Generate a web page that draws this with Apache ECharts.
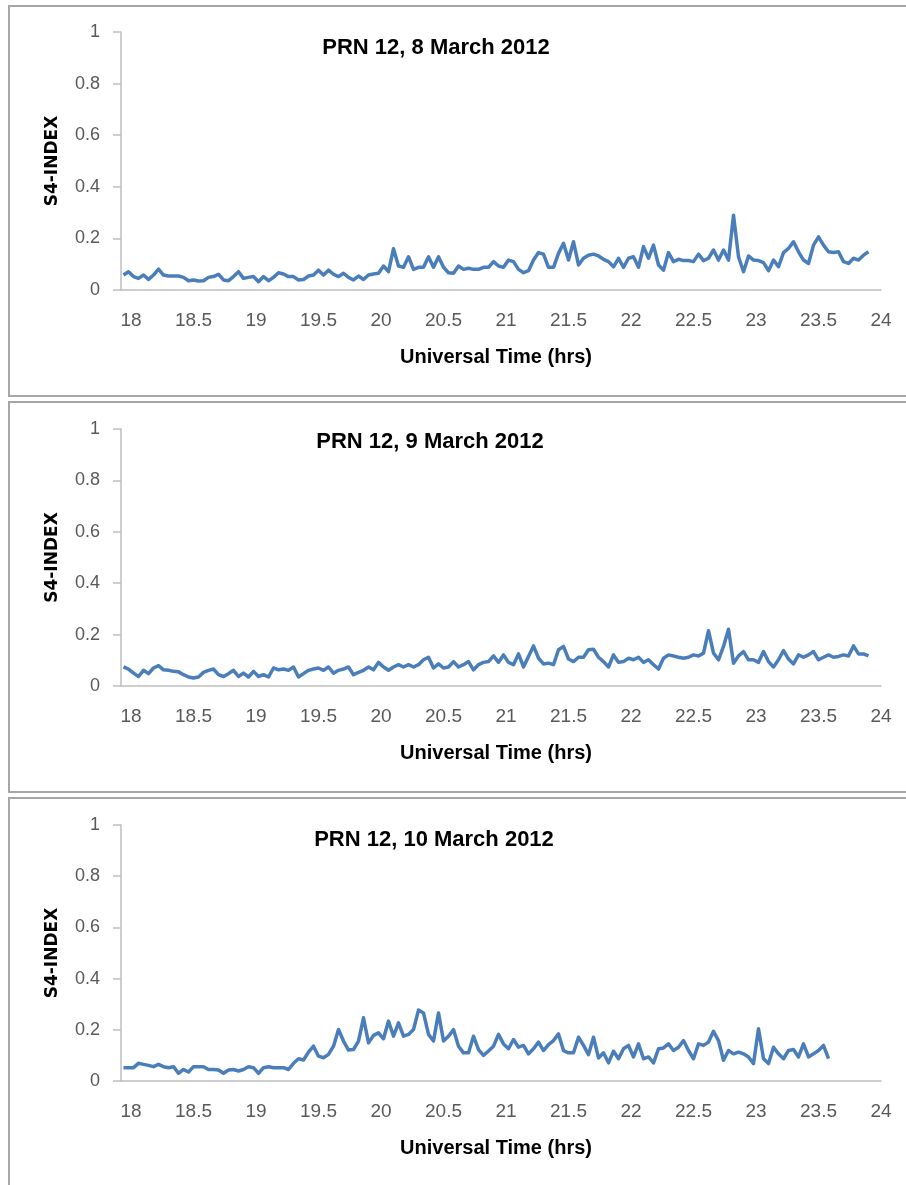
<!DOCTYPE html>
<html>
<head>
<meta charset="utf-8">
<title>PRN 12 S4 index, 8-10 March 2012</title>
<script src="https://cdn.jsdelivr.net/npm/echarts@6/dist/echarts.min.js"></script>
<style>
  html, body { margin: 0; padding: 0; background: #ffffff; }
  #chart { width: 906px; height: 1185px; }
</style>
</head>
<body>
<div id="chart"></div>
<script>
// S4 scintillation index for PRN 12, evening hours (UT) of three consecutive days.
// Samples are taken every SAMPLE_STEP hours starting at SAMPLE_START.
const SAMPLE_START = 17.94;
const SAMPLE_STEP = 0.04;

const titles = ['PRN 12, 8 March 2012', 'PRN 12, 9 March 2012', 'PRN 12, 10 March 2012'];
const xTickValues = [18, 18.5, 19, 19.5, 20, 20.5, 21, 21.5, 22, 22.5, 23, 23.5, 24];
const xAxisTitle = 'Universal Time (hrs)';
const yAxisTitle = 'S4-INDEX';

const s4Mar8 = [
  0.058, 0.071, 0.052, 0.045, 0.058, 0.041, 0.058, 0.081, 0.058, 0.054,
  0.054, 0.054, 0.049, 0.036, 0.039, 0.035, 0.036, 0.049, 0.052, 0.061,
  0.039, 0.036, 0.052, 0.071, 0.045, 0.049, 0.052, 0.032, 0.052, 0.036,
  0.049, 0.067, 0.062, 0.052, 0.052, 0.039, 0.041, 0.054, 0.058, 0.077,
  0.058, 0.077, 0.061, 0.052, 0.065, 0.049, 0.039, 0.054, 0.041, 0.058,
  0.062, 0.065, 0.093, 0.071, 0.160, 0.093, 0.088, 0.129, 0.080, 0.088,
  0.088, 0.129, 0.088, 0.129, 0.088, 0.067, 0.065, 0.093, 0.080, 0.084,
  0.080, 0.080, 0.088, 0.088, 0.110, 0.093, 0.088, 0.116, 0.110, 0.080,
  0.067, 0.075, 0.116, 0.145, 0.139, 0.088, 0.088, 0.142, 0.181, 0.116,
  0.187, 0.097, 0.123, 0.135, 0.139, 0.132, 0.119, 0.110, 0.090, 0.123,
  0.088, 0.123, 0.129, 0.088, 0.168, 0.123, 0.174, 0.097, 0.077, 0.145,
  0.110, 0.119, 0.114, 0.114, 0.110, 0.139, 0.114, 0.123, 0.155, 0.116,
  0.155, 0.116, 0.290, 0.129, 0.071, 0.132, 0.116, 0.114, 0.106, 0.075,
  0.116, 0.090, 0.145, 0.161, 0.187, 0.148, 0.116, 0.103, 0.174, 0.206,
  0.174, 0.148, 0.145, 0.148, 0.110, 0.103, 0.123, 0.116, 0.135, 0.148
];

const s4Mar9 = [
  0.074, 0.066, 0.050, 0.037, 0.061, 0.048, 0.070, 0.079, 0.063, 0.061,
  0.057, 0.055, 0.044, 0.035, 0.031, 0.035, 0.053, 0.061, 0.066, 0.044,
  0.037, 0.048, 0.061, 0.037, 0.050, 0.035, 0.057, 0.037, 0.044, 0.035,
  0.070, 0.063, 0.066, 0.061, 0.074, 0.035, 0.048, 0.061, 0.066, 0.070,
  0.061, 0.074, 0.050, 0.061, 0.066, 0.074, 0.044, 0.053, 0.061, 0.074,
  0.063, 0.092, 0.074, 0.061, 0.074, 0.083, 0.074, 0.083, 0.074, 0.083,
  0.102, 0.112, 0.070, 0.086, 0.070, 0.074, 0.095, 0.074, 0.083, 0.095,
  0.063, 0.083, 0.092, 0.095, 0.117, 0.092, 0.121, 0.092, 0.083, 0.125,
  0.074, 0.115, 0.156, 0.108, 0.086, 0.089, 0.083, 0.141, 0.154, 0.105,
  0.095, 0.112, 0.112, 0.141, 0.143, 0.112, 0.095, 0.074, 0.121, 0.092,
  0.095, 0.108, 0.102, 0.112, 0.092, 0.102, 0.083, 0.066, 0.108, 0.121,
  0.117, 0.112, 0.108, 0.112, 0.121, 0.117, 0.128, 0.215, 0.128, 0.102,
  0.154, 0.221, 0.089, 0.117, 0.134, 0.102, 0.102, 0.092, 0.134, 0.095,
  0.074, 0.102, 0.138, 0.105, 0.086, 0.121, 0.112, 0.121, 0.134, 0.102,
  0.112, 0.121, 0.112, 0.115, 0.121, 0.117, 0.156, 0.125, 0.125, 0.117
];

const s4Mar10 = [
  0.052, 0.052, 0.052, 0.069, 0.065, 0.061, 0.056, 0.065, 0.056, 0.052,
  0.056, 0.030, 0.045, 0.035, 0.056, 0.056, 0.056, 0.045, 0.045, 0.043,
  0.030, 0.043, 0.045, 0.039, 0.045, 0.056, 0.052, 0.030, 0.052, 0.056,
  0.052, 0.052, 0.052, 0.045, 0.069, 0.087, 0.082, 0.113, 0.136, 0.097,
  0.091, 0.104, 0.136, 0.201, 0.156, 0.121, 0.123, 0.156, 0.247, 0.149,
  0.178, 0.188, 0.165, 0.234, 0.175, 0.227, 0.175, 0.182, 0.201, 0.277,
  0.266, 0.182, 0.156, 0.266, 0.156, 0.175, 0.201, 0.136, 0.110, 0.110,
  0.175, 0.123, 0.100, 0.117, 0.136, 0.182, 0.145, 0.126, 0.162, 0.132,
  0.139, 0.106, 0.126, 0.152, 0.119, 0.142, 0.158, 0.184, 0.119, 0.110,
  0.110, 0.171, 0.139, 0.103, 0.171, 0.090, 0.110, 0.071, 0.116, 0.087,
  0.126, 0.139, 0.094, 0.145, 0.087, 0.094, 0.071, 0.126, 0.129, 0.145,
  0.119, 0.132, 0.158, 0.119, 0.087, 0.145, 0.139, 0.152, 0.194, 0.158,
  0.081, 0.119, 0.106, 0.113, 0.106, 0.094, 0.068, 0.204, 0.087, 0.068,
  0.132, 0.106, 0.087, 0.119, 0.123, 0.094, 0.145, 0.094, 0.106, 0.119,
  0.139, 0.087
];

const seriesValues = [s4Mar8, s4Mar9, s4Mar10];

// Panel geometry (pixels)
const panels = [
  { boxTop: 6,   boxBottom: 396,  gridTop: 32,  gridHeight: 258, titleX: 436, titleY: 48 },
  { boxTop: 402, boxBottom: 792,  gridTop: 429, gridHeight: 257, titleX: 430, titleY: 442 },
  { boxTop: 798, boxBottom: 1200, gridTop: 825, gridHeight: 256, titleX: 434, titleY: 840 }
];
const GRID_LEFT = 121;
const GRID_WIDTH = 760;
const X_MIN = 17.92;
const X_MAX = 24.0;

const FONT = '"Liberation Sans", Arial, sans-serif';
const LINE_BLUE = '#4A7EBB';
const AXIS_GREY = '#BEBEBE';
const LABEL_GREY = '#595959';

function toPairs(values) {
  return values.map((v, i) => [+(SAMPLE_START + i * SAMPLE_STEP).toFixed(3), v]);
}

const grids = [], xAxes = [], yAxes = [], series = [], graphics = [];

panels.forEach((p, k) => {
  graphics.push({
    type: 'rect',
    shape: { x: 9, y: p.boxTop, width: 960, height: p.boxBottom - p.boxTop },
    style: { fill: 'none', stroke: '#A6A6A6', lineWidth: 2 },
    silent: true
  });
  graphics.push({
    type: 'text',
    x: p.titleX, y: p.titleY,
    style: {
      text: titles[k], fill: '#000000',
      font: 'bold 22px ' + FONT,
      textAlign: 'center', textVerticalAlign: 'middle'
    },
    silent: true
  });

  grids.push({ left: GRID_LEFT, top: p.gridTop, width: GRID_WIDTH, height: p.gridHeight });

  xAxes.push({
    type: 'value', gridIndex: k, min: X_MIN, max: X_MAX,
    name: xAxisTitle, nameLocation: 'middle', nameGap: 57, nameMoveOverlap: false,
    nameTextStyle: {
      fontFamily: FONT, fontWeight: 'bold', fontSize: 20, color: '#000000',
      padding: [0, 10, 0, 0]
    },
    axisLine: { show: true, onZero: false, lineStyle: { color: AXIS_GREY, width: 1.5 } },
    axisTick: { show: false },
    splitLine: { show: false },
    axisLabel: {
      customValues: xTickValues,
      showMinLabel: true, showMaxLabel: true,
      margin: 21, color: LABEL_GREY, fontFamily: FONT, fontSize: 19,
      formatter: v => String(v)
    }
  });

  yAxes.push({
    type: 'value', gridIndex: k, min: 0, max: 1, interval: 0.2,
    name: yAxisTitle, nameLocation: 'middle', nameGap: 60, nameRotate: 90, nameMoveOverlap: false,
    nameTextStyle: { fontFamily: '"DejaVu Sans", sans-serif', fontWeight: 'bold', fontSize: 17, color: '#000000' },
    axisLine: { show: true, lineStyle: { color: AXIS_GREY, width: 1.5 } },
    axisTick: { show: true, length: 8, lineStyle: { color: AXIS_GREY, width: 1.5 } },
    splitLine: { show: false },
    axisLabel: { margin: 21, color: LABEL_GREY, fontFamily: FONT, fontSize: 18 }
  });

  series.push({
    type: 'line', xAxisIndex: k, yAxisIndex: k,
    data: toPairs(seriesValues[k]),
    showSymbol: false, symbol: 'none',
    lineStyle: { color: LINE_BLUE, width: 3.5, join: 'round' },
    animation: false
  });
});

const chart = echarts.init(document.getElementById('chart'), null, { renderer: 'canvas' });
chart.setOption({
  backgroundColor: '#ffffff',
  animation: false,
  grid: grids,
  xAxis: xAxes,
  yAxis: yAxes,
  series: series,
  graphic: graphics
});
</script>
</body>
</html>
